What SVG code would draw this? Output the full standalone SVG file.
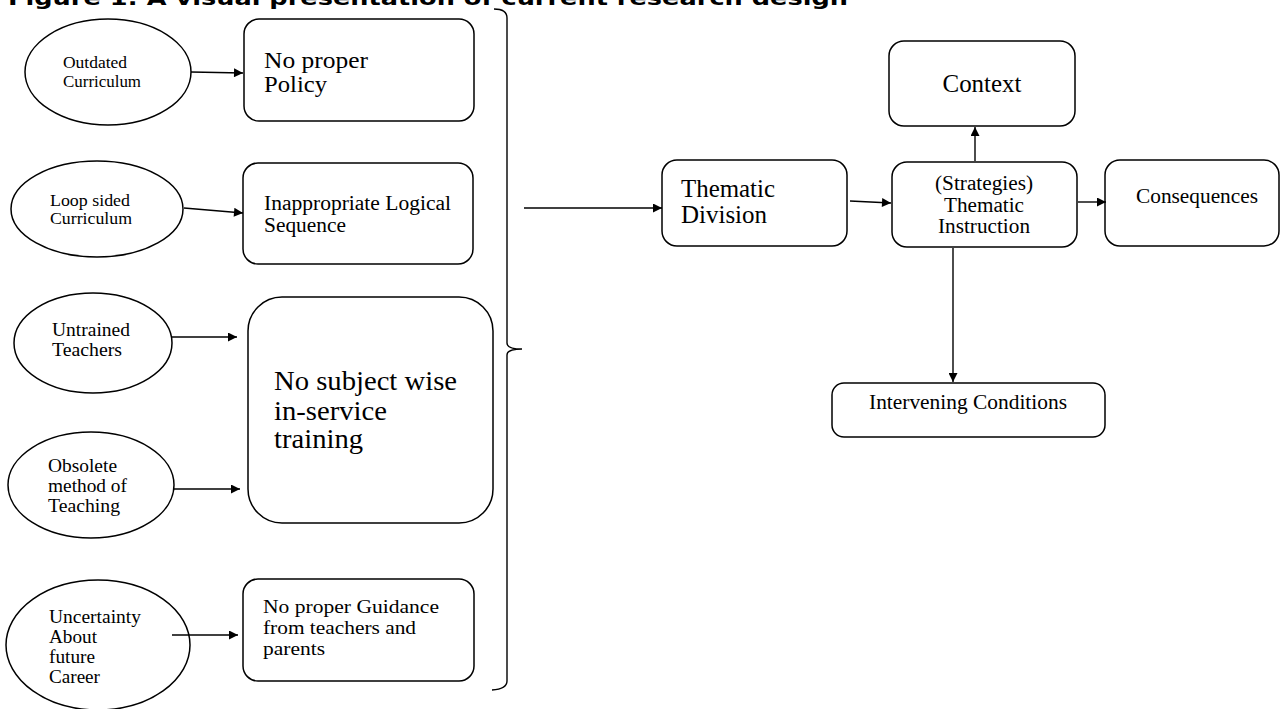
<svg xmlns="http://www.w3.org/2000/svg" width="1280" height="709" viewBox="0 0 1280 709">
<style>
.sh{fill:#fff;stroke:#000;stroke-width:1.5}
.t{font-family:"Liberation Serif","Times New Roman",serif;fill:#000}
.c{stroke:#000;stroke-width:1.4;fill:none}
.title{font-family:"DejaVu Sans",Verdana,sans-serif;font-weight:bold;font-size:20px;fill:#000}
</style>
<defs>
<marker id="ah" viewBox="0 0 10 10" refX="10" refY="5" markerWidth="11" markerHeight="9" markerUnits="userSpaceOnUse" orient="auto">
<path d="M0,0 L10,5 L0,10 z" fill="#000"/>
</marker>
</defs>
<rect width="1280" height="709" fill="#fff"/>
<text class="title" x="8" y="5" textLength="840" lengthAdjust="spacingAndGlyphs">Figure 1: A visual presentation of current research design</text>

<g id="e1"><ellipse class="sh" cx="108" cy="72" rx="83" ry="53"/>
<text class="t" font-size="17.5"><tspan x="63" y="68" textLength="64" lengthAdjust="spacingAndGlyphs">Outdated</tspan><tspan x="63" y="87" textLength="78" lengthAdjust="spacingAndGlyphs">Curriculum</tspan></text></g>
<g id="e2"><ellipse class="sh" cx="97" cy="209" rx="86" ry="48"/>
<text class="t" font-size="17.5"><tspan x="50" y="206" textLength="80" lengthAdjust="spacingAndGlyphs">Loop sided</tspan><tspan x="50" y="224" textLength="82" lengthAdjust="spacingAndGlyphs">Curriculum</tspan></text></g>
<g id="e3"><ellipse class="sh" cx="93" cy="343" rx="79" ry="50"/>
<text class="t" font-size="19"><tspan x="52" y="336" textLength="78" lengthAdjust="spacingAndGlyphs">Untrained</tspan><tspan x="52" y="356" textLength="70" lengthAdjust="spacingAndGlyphs">Teachers</tspan></text></g>
<g id="e4"><ellipse class="sh" cx="91" cy="485" rx="83" ry="53"/>
<text class="t" font-size="19"><tspan x="48" y="472" textLength="69" lengthAdjust="spacingAndGlyphs">Obsolete</tspan><tspan x="48" y="492" textLength="79" lengthAdjust="spacingAndGlyphs">method of</tspan><tspan x="48" y="512" textLength="72" lengthAdjust="spacingAndGlyphs">Teaching</tspan></text></g>
<g id="e5"><ellipse class="sh" cx="98" cy="645" rx="92" ry="65"/>
<text class="t" font-size="19"><tspan x="49" y="623" textLength="92" lengthAdjust="spacingAndGlyphs">Uncertainty</tspan><tspan x="49" y="643" textLength="48" lengthAdjust="spacingAndGlyphs">About</tspan><tspan x="49" y="663" textLength="46" lengthAdjust="spacingAndGlyphs">future</tspan><tspan x="49" y="683" textLength="51" lengthAdjust="spacingAndGlyphs">Career</tspan></text></g>

<g id="b1"><rect class="sh" x="244" y="19" width="230" height="102" rx="15"/>
<text class="t" font-size="23"><tspan x="264" y="68" textLength="104" lengthAdjust="spacingAndGlyphs">No proper</tspan><tspan x="264" y="92" textLength="63" lengthAdjust="spacingAndGlyphs">Policy</tspan></text></g>
<g id="b2"><rect class="sh" x="243" y="163" width="230" height="101" rx="15"/>
<text class="t" font-size="20.5"><tspan x="264" y="210" textLength="187" lengthAdjust="spacingAndGlyphs">Inappropriate Logical</tspan><tspan x="264" y="232" textLength="82" lengthAdjust="spacingAndGlyphs">Sequence</tspan></text></g>
<g id="b3"><rect class="sh" x="248" y="297" width="245" height="226" rx="34"/>
<text class="t" font-size="27"><tspan x="274" y="390" textLength="183" lengthAdjust="spacingAndGlyphs">No subject wise</tspan><tspan x="274" y="420" textLength="113" lengthAdjust="spacingAndGlyphs">in-service</tspan><tspan x="274" y="448" textLength="89" lengthAdjust="spacingAndGlyphs">training</tspan></text></g>
<g id="b4"><rect class="sh" x="243" y="579" width="231" height="102" rx="15"/>
<text class="t" font-size="19.5"><tspan x="263" y="613" textLength="176" lengthAdjust="spacingAndGlyphs">No proper Guidance</tspan><tspan x="263" y="634" textLength="153" lengthAdjust="spacingAndGlyphs">from teachers and</tspan><tspan x="263" y="655" textLength="62" lengthAdjust="spacingAndGlyphs">parents</tspan></text></g>

<g id="brace"><path class="c" stroke-width="1.3" d="M494,9 Q507,9 507,18 L507,343 Q507,349 522,349 Q507,349 507,355 L507,681 Q507,689 492,690"/></g>

<g id="td"><rect class="sh" x="662" y="160" width="185" height="86" rx="15"/>
<text class="t" font-size="25"><tspan x="681" y="197" textLength="94" lengthAdjust="spacingAndGlyphs">Thematic</tspan><tspan x="681" y="223" textLength="86" lengthAdjust="spacingAndGlyphs">Division</tspan></text></g>
<g id="ctx"><rect class="sh" x="889" y="41" width="186" height="85" rx="15"/>
<text class="t" font-size="25" x="982" y="92" text-anchor="middle" textLength="79" lengthAdjust="spacingAndGlyphs">Context</text></g>
<g id="ti"><rect class="sh" x="892" y="162" width="185" height="85" rx="15"/>
<text class="t" font-size="20" text-anchor="middle"><tspan x="984" y="190" textLength="98" lengthAdjust="spacingAndGlyphs">(Strategies)</tspan><tspan x="984" y="212" textLength="80" lengthAdjust="spacingAndGlyphs">Thematic</tspan><tspan x="984" y="233" textLength="92" lengthAdjust="spacingAndGlyphs">Instruction</tspan></text></g>
<g id="cons"><rect class="sh" x="1105" y="160" width="174" height="86" rx="15"/>
<text class="t" font-size="21" x="1197" y="203" text-anchor="middle" textLength="122" lengthAdjust="spacingAndGlyphs">Consequences</text></g>
<g id="ic"><rect class="sh" x="832" y="383" width="273" height="54" rx="12"/>
<text class="t" font-size="21" x="968" y="409" text-anchor="middle" textLength="198" lengthAdjust="spacingAndGlyphs">Intervening Conditions</text></g>

<g id="connectors">
<line class="c" x1="191" y1="72" x2="243" y2="73" marker-end="url(#ah)"/>
<line class="c" x1="184" y1="208" x2="243" y2="213" marker-end="url(#ah)"/>
<line class="c" x1="172" y1="337" x2="237" y2="337" marker-end="url(#ah)"/>
<line class="c" x1="174" y1="489" x2="240" y2="489" marker-end="url(#ah)"/>
<line class="c" x1="172" y1="635" x2="238" y2="635" marker-end="url(#ah)"/>
<line class="c" x1="524" y1="208" x2="662" y2="208" marker-end="url(#ah)"/>
<line class="c" x1="850" y1="201" x2="891" y2="203" marker-end="url(#ah)"/>
<line class="c" x1="1078" y1="202" x2="1106" y2="202" marker-end="url(#ah)"/>
<line class="c" x1="975" y1="161" x2="975" y2="127" marker-end="url(#ah)"/>
<line class="c" x1="953" y1="248" x2="953" y2="382" marker-end="url(#ah)"/>
</g>
</svg>
